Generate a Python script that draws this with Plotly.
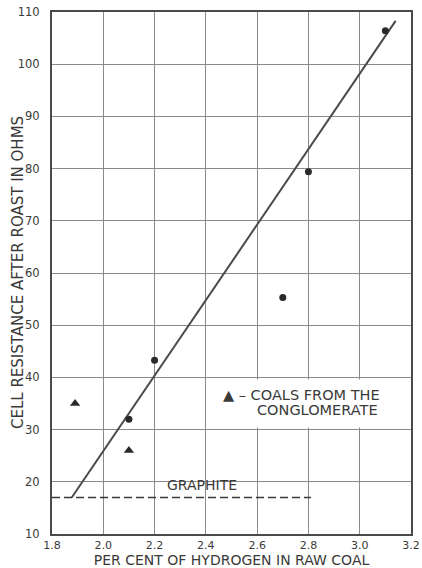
import plotly.graph_objects as go

# Data
coal_h = [2.1, 2.2, 2.7, 2.8, 3.1]
coal_res = [32.0, 43.3, 55.3, 79.4, 106.4]
cong_h = [1.89, 2.1]
cong_res = [35.0, 26.0]
fit_h = [1.877, 3.14]
fit_res = [17.0, 108.3]
graphite_h = [1.8, 2.81]
graphite_res = [17.0, 17.0]
x_ticks = [1.8, 2.0, 2.2, 2.4, 2.6, 2.8, 3.0, 3.2]
x_labels = ["1.8", "2.0", "2.2", "2.4", "2.6", "2.8", "3.0", "3.2"]
y_ticks = [10, 20, 30, 40, 50, 60, 70, 80, 90, 100, 110]
y_labels = ["10", "20", "30", "40", "50", "60", "70", "80", "90", "100", "110"]

ink = "#3a3a3a"
grid = "#8a8a8a"
FONT = "DejaVu Sans"

fig = go.Figure()

fig.add_trace(go.Scatter(x=graphite_h, y=graphite_res, mode="lines",
                         line=dict(color=ink, width=1.6, dash="8px,4px"),
                         showlegend=False, hoverinfo="skip", cliponaxis=False))
fig.add_trace(go.Scatter(x=fit_h, y=fit_res, mode="lines",
                         line=dict(color="#4a4a4a", width=2),
                         showlegend=False))
fig.add_trace(go.Scatter(x=coal_h, y=coal_res, mode="markers",
                         marker=dict(symbol="circle", size=7, color="#2a2a2a"),
                         showlegend=False))
fig.add_trace(go.Scatter(x=cong_h, y=cong_res, mode="markers",
                         marker=dict(symbol="triangle-up", size=9, color="#2a2a2a"),
                         showlegend=False))

# white legend box hiding grid
fig.add_shape(type="rect", xref="x", yref="y", x0=2.42, x1=3.195, y0=30.4, y1=39.6,
              fillcolor="white", line=dict(width=0), layer="between")

fig.add_annotation(x=2.385, y=19.3, xref="x", yref="y", text="GRAPHITE",
                   showarrow=False, font=dict(family=FONT, size=14, color=ink))
fig.add_annotation(x=2.46, y=36.6, xref="x", yref="y", xanchor="left",
                   text="▲ – COALS FROM THE", showarrow=False,
                   font=dict(family=FONT, size=14.5, color=ink))
fig.add_annotation(x=2.59, y=33.8, xref="x", yref="y", xanchor="left",
                   text="CONGLOMERATE", showarrow=False,
                   font=dict(family=FONT, size=14.5, color=ink))

# y-axis title placed precisely (centre at ~18 px from the left edge)
fig.add_annotation(x=(18 - 52) / 359, y=0.5, xref="paper", yref="paper",
                   text="CELL RESISTANCE AFTER ROAST IN OHMS", textangle=-90,
                   showarrow=False, xanchor="center", yanchor="middle",
                   font=dict(family=FONT, size=15, color=ink))

fig.update_layout(
    width=422, height=568,
    margin=dict(l=52, r=11, t=12, b=34),
    paper_bgcolor="white", plot_bgcolor="white",
    font=dict(family=FONT, size=11, color=ink),
    xaxis=dict(range=[1.8, 3.2], tickvals=x_ticks, ticktext=x_labels,
               showgrid=True, gridcolor=grid, gridwidth=1,
               showline=True, linecolor="#4a4a4a", linewidth=2, mirror=True,
               zeroline=False, ticks="", ticklabelstandoff=0, automargin=False,
               ticklabeloverflow="allow",
               tickfont=dict(family=FONT, size=11, color=ink),
               title=dict(text="PER CENT OF HYDROGEN IN RAW COAL",
                          font=dict(family=FONT, size=14, color=ink), standoff=1)),
    yaxis=dict(range=[10, 110], tickvals=y_ticks, ticktext=y_labels,
               showgrid=True, gridcolor=grid, gridwidth=1,
               showline=True, linecolor="#4a4a4a", linewidth=2, mirror=True,
               zeroline=False, ticks="", ticklabelstandoff=8, automargin=False,
               ticklabeloverflow="allow",
               tickfont=dict(family=FONT, size=11.5, color=ink)),
)

fig.write_html(
    "out.html",
    config={"displayModeBar": False},
    post_script="document.body.style.margin='0';document.body.style.overflow='hidden';",
)
